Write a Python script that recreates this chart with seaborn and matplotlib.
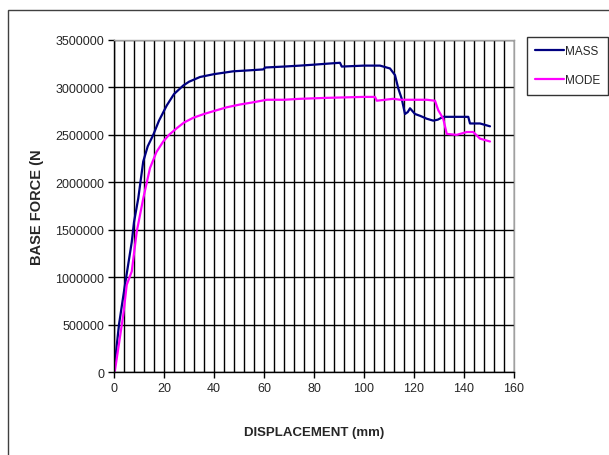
import matplotlib
matplotlib.use("Agg")
import matplotlib.pyplot as plt
import numpy as np
import pandas as pd
import seaborn as sns
from matplotlib.patches import Rectangle
from matplotlib.ticker import MultipleLocator

# data (displacement mm, base force N)
mass_x = [0.0, 0.4, 2.0, 4.4, 7.1, 8.0, 9.7, 11.7, 13.5, 15.7, 18.0, 21.1, 24.0, 27.7, 30.0,
          34.4, 40.0, 47.7, 54.0, 59.7, 60.5, 68.0, 74.4, 80.0, 85.1, 90.4, 91.1, 100.0,
          106.4, 110.4, 112.4, 113.7, 115.1, 116.4, 117.5, 118.4, 120.4, 122.5, 125.1,
          127.7, 129.5, 131.7, 135.0, 141.7, 142.4, 146.4, 150.4]
mass_y = [0.0, 110000, 500000, 920000, 1370000, 1580000, 1830000, 2220000, 2380000, 2500000,
          2650000, 2810000, 2930000, 3020000, 3060000, 3110000, 3140000, 3170000, 3180000,
          3190000, 3210000, 3220000, 3230000, 3240000, 3250000, 3260000, 3220000, 3230000,
          3230000, 3200000, 3130000, 2990000, 2880000, 2720000, 2740000, 2780000, 2720000,
          2700000, 2670000, 2650000, 2660000, 2690000, 2690000, 2690000, 2620000, 2620000,
          2590000]

mode_x = [0.0, 0.4, 2.0, 3.7, 5.1, 7.1, 9.1, 11.7, 14.4, 17.0, 19.7, 22.0, 25.1, 28.0,
          31.7, 36.0, 41.1, 45.0, 50.4, 55.0, 61.1, 68.0, 74.4, 85.0, 99.7, 104.4, 105.1,
          111.7, 114.4, 125.1, 128.4, 129.7, 131.7, 133.1, 137.1, 141.1, 143.7, 146.4, 150.4]
mode_y = [0.0, 20000, 300000, 600000, 920000, 1060000, 1480000, 1830000, 2150000, 2320000,
          2430000, 2500000, 2570000, 2630000, 2680000, 2720000, 2760000, 2790000, 2820000,
          2840000, 2870000, 2870000, 2880000, 2890000, 2900000, 2900000, 2860000, 2880000,
          2870000, 2870000, 2860000, 2760000, 2670000, 2510000, 2500000, 2530000, 2530000,
          2460000, 2430000]

df = pd.concat([
    pd.DataFrame({'disp': mass_x, 'force': mass_y, 'series': 'MASS'}),
    pd.DataFrame({'disp': mode_x, 'force': mode_y, 'series': 'MODE'}),
])

sns.set_style("white")
plt.rcParams['font.family'] = ['Liberation Sans', 'DejaVu Sans']

fig = plt.figure(figsize=(6.09, 4.56), dpi=100)
ax = fig.add_axes([114/609, 1-373/456, 400/609, 332/456])

sns.lineplot(data=df, x='disp', y='force', hue='series', sort=False, estimator=None,
             palette={'MASS': '#000080', 'MODE': '#ff00ff'}, linewidth=1.6, ax=ax,
             legend=False)

ax.set_xlim(0, 160)
ax.set_ylim(0, 3500000)
ax.xaxis.set_major_locator(MultipleLocator(20))
ax.xaxis.set_minor_locator(MultipleLocator(4))
ax.yaxis.set_major_locator(MultipleLocator(500000))
ax.grid(which='major', axis='y', color='black', linewidth=1)
ax.grid(which='minor', axis='x', color='black', linewidth=1)
ax.grid(which='major', axis='x', color='black', linewidth=1)
ax.set_axisbelow(True)
ax.ticklabel_format(style='plain', axis='y')
ax.tick_params(axis='both', which='major', direction='out', length=4, width=1,
               color='black', labelsize=9, pad=3, bottom=True, left=True)
ax.tick_params(axis='x', which='minor', length=0)

for s in ['left', 'bottom']:
    ax.spines[s].set_color('black')
    ax.spines[s].set_linewidth(1)
for s in ['top', 'right']:
    ax.spines[s].set_color('#a0a0a0')
    ax.spines[s].set_linewidth(1)

ax.set_xlabel('DISPLACEMENT (mm)', fontsize=9.5, fontweight='bold', labelpad=23)
ax.set_ylabel('BASE FORCE (N', fontsize=10.5, fontweight='bold', labelpad=8)

handles = [plt.Line2D([], [], color='#000080', linewidth=1.6),
           plt.Line2D([], [], color='#ff00ff', linewidth=1.6)]
leg = fig.legend(handles, ['MASS', 'MODE'], loc='upper left',
                 bbox_to_anchor=(527/609, 1-38/456), frameon=True, fancybox=False,
                 edgecolor='black', fontsize=8.5, handlelength=2.4, handletextpad=0.1,
                 labelspacing=1.45, borderpad=0.7, borderaxespad=0)
leg.get_frame().set_linewidth(1)

# outer chart border
fig.patches.append(Rectangle((8/609, -0.05), 1.0, 1-11/456+0.05, transform=fig.transFigure,
                             fill=False, edgecolor='#404040', linewidth=1))

fig.savefig('out.png', dpi=100)
